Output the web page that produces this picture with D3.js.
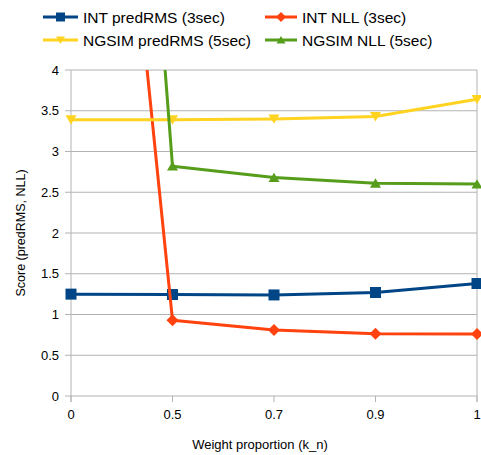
<!DOCTYPE html>
<html>
<head>
<meta charset="utf-8" />
<title>chart</title>
<script src="https://d3js.org/d3.v7.min.js"></script>
<style>
  body { margin: 0; background: #fff; }
  text { font-family: "Liberation Sans", Arial, sans-serif; fill: #000; }
</style>
</head>
<body>
<div id="chart"></div>
<script>
const categories = ["0", "0.5", "0.7", "0.9", "1"];
const intPredRMS = [1.25, 1.245, 1.24, 1.27, 1.38];
const intNLL = [13.2, 0.93, 0.81, 0.765, 0.76];
const ngsimPredRMS = [3.39, 3.39, 3.40, 3.43, 3.64];
const ngsimNLL = [19.0, 2.82, 2.68, 2.61, 2.60];
const yTicks = [0, 0.5, 1, 1.5, 2, 2.5, 3, 3.5, 4];

const series = [
  { name: "INT predRMS (3sec)", values: intPredRMS, color: "#004586", marker: "square" },
  { name: "INT NLL (3sec)", values: intNLL, color: "#ff420e", marker: "diamond" },
  { name: "NGSIM predRMS (5sec)", values: ngsimPredRMS, color: "#ffd320", marker: "down" },
  { name: "NGSIM NLL (5sec)", values: ngsimNLL, color: "#579d1c", marker: "up" }
];

const W = 481, H = 455;
const m = { left: 71, right: 4, top: 70, bottom: 59 };

const svg = d3.select("#chart").append("svg")
  .attr("width", W).attr("height", H);

const x = d3.scalePoint().domain(categories).range([m.left, W - m.right]);
const y = d3.scaleLinear().domain([0, 4]).range([H - m.bottom, m.top]);

// grid
svg.append("g").selectAll("line").data(yTicks).join("line")
  .attr("x1", m.left - 6).attr("x2", W - m.right)
  .attr("y1", d => y(d)).attr("y2", d => y(d))
  .attr("stroke", "#b3b3b3").attr("stroke-width", 1);

// right border
svg.append("line")
  .attr("x1", W - m.right).attr("x2", W - m.right)
  .attr("y1", m.top).attr("y2", y(0) + 6)
  .attr("stroke", "#b3b3b3");

// y axis line
svg.append("line")
  .attr("x1", m.left).attr("x2", m.left)
  .attr("y1", m.top).attr("y2", y(0) + 6)
  .attr("stroke", "#b3b3b3");

// x ticks
svg.append("g").selectAll("line").data(categories).join("line")
  .attr("x1", d => x(d)).attr("x2", d => x(d))
  .attr("y1", y(0)).attr("y2", y(0) + 6)
  .attr("stroke", "#b3b3b3");

// y labels
svg.append("g").selectAll("text").data(yTicks).join("text")
  .attr("x", m.left - 12).attr("y", d => y(d) + 4.5)
  .attr("text-anchor", "end").attr("font-size", 13)
  .text(d => d);

// x labels
svg.append("g").selectAll("text").data(categories).join("text")
  .attr("x", d => x(d)).attr("y", y(0) + 23)
  .attr("text-anchor", "middle").attr("font-size", 13)
  .text(d => d);

// axis titles
svg.append("text")
  .attr("x", 260).attr("y", 449)
  .attr("text-anchor", "middle").attr("font-size", 13)
  .text("Weight proportion (k_n)");
svg.append("text")
  .attr("transform", `translate(25,${(m.top + y(0)) / 2}) rotate(-90)`)
  .attr("text-anchor", "middle").attr("font-size", 12.5)
  .text("Score (predRMS, NLL)");

svg.append("clipPath").attr("id", "plot")
  .append("rect").attr("x", m.left - 8).attr("y", m.top)
  .attr("width", W - m.left + 8).attr("height", y(0) - m.top + 8);

function markerPath(type, s) {
  if (type === "square") return `M${-s},${-s}H${s}V${s}H${-s}Z`;
  if (type === "diamond") return `M0,${-s}L${s},0L0,${s}L${-s},0Z`;
  if (type === "down") return `M${-s},${-s * 0.8}H${s}L0,${s * 0.9}Z`;
  return `M${-s},${s * 0.8}H${s}L0,${-s * 0.9}Z`;
}

const line = d3.line().x((d, i) => x(categories[i])).y(d => y(d));
const plot = svg.append("g").attr("clip-path", "url(#plot)");

series.forEach(s => {
  plot.append("path").datum(s.values)
    .attr("d", line).attr("fill", "none")
    .attr("stroke", s.color).attr("stroke-width", 3)
    .attr("stroke-linejoin", "round");
  plot.append("g").selectAll("path").data(s.values).join("path")
    .attr("transform", (d, i) => `translate(${x(categories[i])},${y(d)})`)
    .attr("d", markerPath(s.marker, s.marker === "diamond" ? 6 : 5.5))
    .attr("fill", s.color);
});

// legend
const legendPos = [[43, 17], [265, 17], [43, 40], [265, 40]];
series.forEach((s, i) => {
  const [lx, ly] = legendPos[i];
  const g = svg.append("g").attr("transform", `translate(${lx},${ly})`);
  g.append("line").attr("x1", 0).attr("x2", i % 2 ? 32 : 35)
    .attr("y1", 0).attr("y2", 0)
    .attr("stroke", s.color).attr("stroke-width", 3);
  g.append("path").attr("transform", `translate(${i % 2 ? 16 : 17.5},0)`)
    .attr("d", markerPath(s.marker, s.marker === "diamond" ? 5 : 4.5))
    .attr("fill", s.color);
  g.append("text").attr("x", i % 2 ? 37 : 40).attr("y", 5.5)
    .attr("font-size", 15.5).text(s.name);
});
</script>
</body>
</html>
